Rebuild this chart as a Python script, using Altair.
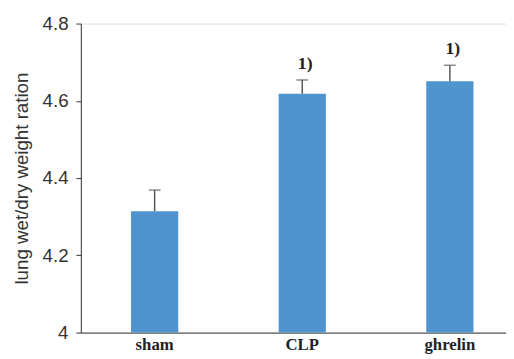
import altair as alt
import pandas as pd

groups = ["sham", "CLP", "ghrelin"]
means = [4.314, 4.618, 4.651]
uppers = [4.369, 4.654, 4.692]
marks = ["", "1)", "1)"]
y_ticks = [4, 4.2, 4.4, 4.6, 4.8]
y_base = 4

df = pd.DataFrame({"group": groups, "mean": means, "upper": uppers, "mark": marks})
df["base"] = y_base

x_enc = alt.X(
    "group:N",
    sort=groups,
    scale=alt.Scale(paddingInner=0.68, paddingOuter=0.28, align=0.607),
    axis=alt.Axis(
        title=None, labelAngle=0, ticks=False, labelPadding=4,
        labelFont="Liberation Serif", labelFontSize=17, labelColor="#222",
        labelFontWeight="bold", domainColor="#333", domainWidth=1,
    ),
)
y_scale = alt.Scale(domain=[4, 4.8], nice=False, zero=False)

bars = alt.Chart(df).mark_bar(color="#4f94cf").encode(
    x=x_enc,
    y=alt.Y(
        "mean:Q",
        scale=y_scale,
        axis=alt.Axis(
            values=y_ticks, grid=False, tickSize=5, tickColor="#333",
            domainColor="#333", labelPadding=8,
            labelExpr="datum.value == 4 ? '4' : format(datum.value, '.1f')",
            labelFont="Liberation Sans", labelFontSize=19, labelColor="#333",
            title="lung wet/dry weight ration", titleFont="Liberation Sans",
            titleFontSize=19, titleFontWeight="normal", titleColor="#333",
            titleAngle=-90, titleX=-60, titleY=157, titleAlign="center",
            titleBaseline="middle",
        ),
    ),
    y2="base:Q",
)

err = alt.Chart(df).mark_rule(color="#555", strokeWidth=1.5).encode(
    x=alt.X("group:N", sort=groups),
    y=alt.Y("mean:Q", scale=y_scale),
    y2="upper:Q",
)

caps = alt.Chart(df).mark_tick(color="#555", size=12, thickness=1.5, orient="horizontal").encode(
    x=alt.X("group:N", sort=groups),
    y=alt.Y("upper:Q", scale=y_scale),
)

labels = alt.Chart(df).mark_text(
    font="Liberation Serif", fontSize=18, fontWeight="bold", color="#222",
    baseline="bottom", dy=-7, dx=3,
).encode(
    x=alt.X("group:N", sort=groups),
    y=alt.Y("upper:Q", scale=y_scale),
    text="mark:N",
)

chart = (bars + err + caps + labels).properties(
    width=432, height=314,
    autosize=alt.AutoSizeParams(type="none"),
    padding={"left": 74, "top": 13, "right": 0, "bottom": 24},
).configure_view(stroke=None).configure(background="white")

chart.save("out.html", embed_options={"renderer": "svg", "actions": False})
